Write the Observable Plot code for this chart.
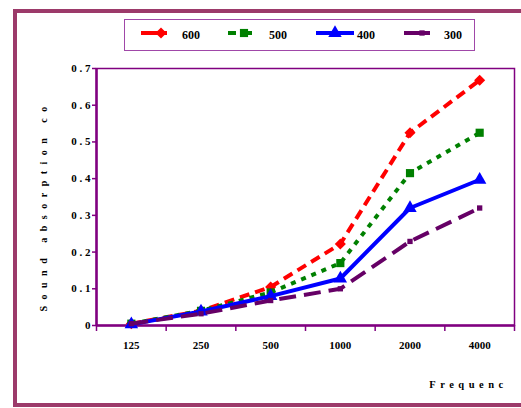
<!DOCTYPE html>
<html><head><meta charset="utf-8">
<script src="https://cdn.jsdelivr.net/npm/d3@7"></script>
<script src="https://cdn.jsdelivr.net/npm/@observablehq/plot@0.6"></script>
<style>
body{margin:0;background:#fff;}
#wrap{position:relative;width:521px;height:408px;overflow:hidden;font-family:"Liberation Serif","Times New Roman",serif;}
#frame{position:absolute;left:13px;top:9px;width:600px;height:398px;border:4px solid #9C3A6A;box-sizing:border-box;}
#legend{position:absolute;left:124px;top:19px;width:351px;height:32px;border:1.5px solid #A048A8;box-sizing:border-box;background:#fff;}
#chart{position:absolute;left:0;top:0;}
.leg-label{position:absolute;font:bold 12px "Liberation Serif",serif;color:#000;top:8px;}
</style>
</head><body>
<div id="wrap"><div id="frame"></div><div id="chart"></div><div id="legend"></div></div>
<script>
const freqs = ["125","250","500","1000","2000","4000"];
const s600 = [0.005, 0.04, 0.105, 0.222, 0.525, 0.668];
const s500 = [0.005, 0.04, 0.09, 0.17, 0.415, 0.525];
const s400 = [0.003, 0.038, 0.08, 0.128, 0.32, 0.397];
const s300 = [0.005, 0.032, 0.068, 0.10, 0.229, 0.32];
const seriesNames = ["600","500","400","300"];
const seriesColors = ["#FF0000","#008000","#0000FF","#660066"];
const yTicks = [0,0.1,0.2,0.3,0.4,0.5,0.6,0.7];
const yTickLabels = ["0","0 . 1","0 . 2","0 . 3","0 . 4","0 . 5","0 . 6","0 . 7"];
const yTitle = "Sound absorption co";
const xTitle = "Frequenc";

const seriesValues = [s600, s500, s400, s300];
const dashes = ["10,6","5,6",null,"17,8"];
const symbols = ["diamond2","square","triangle","square"];
const radii = [5, 4.6, 5, 3];

const axisColor = "#800080";
const font = "Liberation Serif";

const marks = [
  Plot.frame({stroke: axisColor, strokeWidth: 1.5}),
  Plot.axisX({ticks: d3.range(-0.5, 6, 1), tickSize: 6, tickFormat: () => "", stroke: axisColor, strokeWidth: 1.5, label: null}),
  Plot.axisX({ticks: d3.range(0, 6), tickSize: 0, tickPadding: 16, tickFormat: i => freqs[i], fontWeight: "bold", fontSize: 11, fontFamily: font, fill: "#000", label: null}),
  Plot.axisY({ticks: yTicks, tickSize: 4, tickPadding: 2, tickFormat: d => yTickLabels[yTicks.indexOf(d)], stroke: axisColor, strokeWidth: 1.5, fontWeight: "bold", fontSize: 11, fontFamily: font, fill: "#000", label: null}),
  Plot.ruleY([0], {stroke: axisColor, strokeWidth: 2.5}),
  Plot.ruleX([-0.5], {stroke: axisColor, strokeWidth: 2.5}),
];

seriesValues.forEach((vals, k) => {
  const data = freqs.map((f, i) => ({i, v: vals[i]}));
  marks.push(Plot.line(data, {x: "i", y: "v", stroke: seriesColors[k], strokeWidth: 4, strokeDasharray: dashes[k], strokeLinecap: "butt", strokeLinejoin: "round"}));
  marks.push(Plot.dot(data, {x: "i", y: "v", symbol: symbols[k], r: radii[k], fill: seriesColors[k], stroke: "none"}));
});

marks.push(Plot.text([yTitle], {frameAnchor: "bottom-left", textAnchor: "start", dx: -50, dy: -14, rotate: -90, fontWeight: "bold", fontSize: 10, fontFamily: font, fill: "#000"}));
marks.push(Plot.text([xTitle], {frameAnchor: "bottom", dx: 163, dy: 62, fontWeight: "bold", fontSize: 10.5, fontFamily: font, fill: "#000"}));

const chart = Plot.plot({
  width: 521, height: 408,
  marginLeft: 96, marginRight: 7, marginTop: 68, marginBottom: 83,
  style: {background: "transparent", fontFamily: font},
  x: {type: "linear", domain: [-0.5, 5.5], label: null},
  y: {domain: [0, 0.7], label: null},
  marks
});
d3.select(chart).selectAll("text").each(function() {
  const t = this.textContent;
  if (t === yTitle) d3.select(this).style("letter-spacing", "6.5px");
  if (t === xTitle) d3.select(this).style("letter-spacing", "4.5px");
});
document.getElementById("chart").appendChild(chart);

// legend
const legend = document.getElementById("legend");
const lineX = [16, 103, 191, 279];
const lineW = [26, 31, 38, 26];
const labelX = [57, 144, 232, 319];
const markerAt = [20, 16, 19, 18];
const symMap = {diamond2: d3.symbolDiamond2, square: d3.symbolSquare, triangle: d3.symbolTriangle};
seriesNames.forEach((name, k) => {
  const svg = d3.create("svg").attr("width", lineW[k]).attr("height", 20)
    .style("position", "absolute").style("left", lineX[k] + "px").style("top", "3px");
  svg.append("line").attr("x1", 0).attr("x2", lineW[k]).attr("y1", 10).attr("y2", 10)
    .attr("stroke", seriesColors[k]).attr("stroke-width", 4)
    .attr("stroke-dasharray", k === 1 ? "8,8" : null);
  svg.append("path").attr("transform", `translate(${markerAt[k]},10)`)
    .attr("d", d3.symbol(symMap[symbols[k]], Math.PI * radii[k] * radii[k])())
    .attr("fill", seriesColors[k]);
  legend.appendChild(svg.node());
  const lab = document.createElement("div");
  lab.className = "leg-label";
  lab.style.left = labelX[k] + "px";
  lab.textContent = name;
  legend.appendChild(lab);
});
</script>
</body></html>
